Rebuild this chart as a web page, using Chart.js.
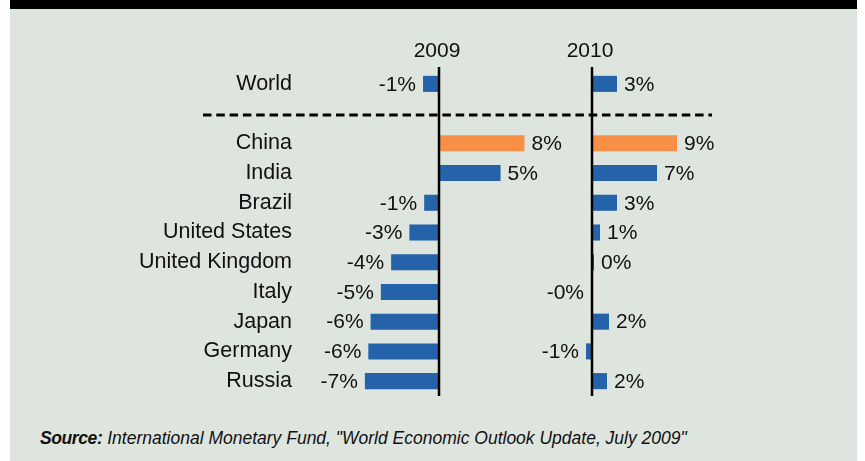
<!DOCTYPE html>
<html>
<head>
<meta charset="utf-8">
<script src="https://cdn.jsdelivr.net/npm/chart.js@4/dist/chart.umd.min.js"></script>
<style>
  html, body { margin: 0; padding: 0; background: #ffffff; }
  #panel { position: absolute; left: 10px; top: 0; width: 847px; height: 461px; background: #dee4de; }
  #topbar { position: absolute; left: 0; top: 0; width: 100%; height: 9px; background: #000000; }
  #chart { position: absolute; left: 0; top: 0; }
  #source {
    position: absolute; left: 40px; top: 430px; white-space: nowrap;
    font-family: "Liberation Sans", Arial, sans-serif; font-size: 17.5px; line-height: 1;
    font-style: italic; color: #111111;
  }
  #source b { font-weight: bold; letter-spacing: -0.4px; }
</style>
</head>
<body>
<div id="panel"><div id="topbar"></div></div>
<canvas id="chart" width="865" height="410"></canvas>
<div id="source"><b>Source:</b> International Monetary Fund, "World Economic Outlook Update, July 2009"</div>
<script>
// Real GDP growth (%), IMF projections
const categories = ['World', '', 'China', 'India', 'Brazil', 'United States', 'United Kingdom', 'Italy', 'Japan', 'Germany', 'Russia'];
const years = ['2009', '2010'];
const growth2009 = [-1.4, null, 7.5, 5.4, -1.3, -2.6, -4.2, -5.1, -6.0, -6.2, -6.5];
const growth2010 = [2.5, null, 8.5, 6.5, 2.5, 0.8, 0.2, -0.1, 1.7, -0.6, 1.5];

const BLUE = '#2462aa';
const ORANGE = '#f78f47';
const GREEN = '#1f6b2a';
const FONT = '"Liberation Sans", Arial, Helvetica, sans-serif';

function barColor(ctx) {
  const v = ctx.raw;
  if (categories[ctx.dataIndex] === 'China') return ORANGE;
  if (v !== null && Math.abs(v) < 0.5) return GREEN;
  return BLUE;
}

// Whole-percent label, rounding halves away from zero and keeping the sign of small negatives
function pctLabel(v) {
  const r = Math.sign(v) * Math.round(Math.abs(v));
  return (v < 0 && r === 0 ? '-0' : String(r)) + '%';
}

const yearPanels = {
  id: 'yearPanels',
  afterDatasetsDraw(chart) {
    const { ctx, chartArea, scales } = chart;
    ctx.save();

    // dashed rule through the empty row separating the world total from the countries
    const ySep = scales.y.getPixelForValue(1) + 1.5;
    ctx.strokeStyle = '#000000';
    ctx.lineWidth = 3;
    ctx.setLineDash([8.5, 4.8]);
    ctx.beginPath();
    ctx.moveTo(chartArea.left - 122, ySep);
    ctx.lineTo(chartArea.right + 20, ySep);
    ctx.stroke();
    ctx.setLineDash([]);

    chart.data.datasets.forEach((ds, di) => {
      const scale = scales[ds.xAxisID];
      const x0 = scale.getPixelForValue(0);

      // zero line of each year
      ctx.strokeStyle = '#000000';
      ctx.lineWidth = 2.5;
      ctx.beginPath();
      ctx.moveTo(x0, chartArea.top - 2);
      ctx.lineTo(x0, chartArea.bottom);
      ctx.stroke();

      // year heading
      ctx.fillStyle = '#111111';
      ctx.font = '21px ' + FONT;
      ctx.textAlign = 'center';
      ctx.textBaseline = 'alphabetic';
      ctx.fillText(ds.label, x0 - 2, chartArea.top - 12);

      // value labels at the bar ends
      const meta = chart.getDatasetMeta(di);
      meta.data.forEach((bar, i) => {
        const v = ds.data[i];
        if (v === null || v === undefined) return;
        ctx.textBaseline = 'middle';
        if (v < 0) {
          ctx.textAlign = 'right';
          ctx.fillText(pctLabel(v), bar.x - 7, bar.y + 1);
        } else {
          ctx.textAlign = 'left';
          ctx.fillText(pctLabel(v), bar.x + 7, bar.y + 1);
        }
      });
    });
    ctx.restore();
  }
};

new Chart(document.getElementById('chart'), {
  type: 'bar',
  data: {
    labels: categories,
    datasets: [
      { label: years[0], data: growth2009, xAxisID: 'x09', yAxisID: 'y', backgroundColor: barColor },
      { label: years[1], data: growth2010, xAxisID: 'x10', yAxisID: 'y', backgroundColor: barColor }
    ]
  },
  options: {
    indexAxis: 'y',
    responsive: false,
    animation: false,
    devicePixelRatio: 1,
    layout: { padding: { left: 0, right: 173, top: 69, bottom: 14 } },
    datasets: { bar: { grouped: false, categoryPercentage: 1, barPercentage: 0.54, borderWidth: 0 } },
    scales: {
      x09: {
        type: 'linear', axis: 'x', position: 'bottom', stack: 'years', stackWeight: 228,
        min: -10, max: 10, display: false
      },
      x10: {
        type: 'linear', axis: 'x', position: 'bottom', stack: 'years', stackWeight: 139,
        min: -3.9, max: 10, display: false
      },
      y: {
        type: 'category',
        afterFit(scale) {
          scale.width = 325;
          scale.paddingTop = 0;
          scale.paddingBottom = 0;
        },
        grid: { display: false, drawTicks: false },
        border: { display: false },
        ticks: { padding: 33, color: '#111111', font: { family: FONT, size: 21.5 }, autoSkip: false }
      }
    },
    plugins: {
      legend: { display: false },
      tooltip: { enabled: false }
    }
  },
  plugins: [yearPanels]
});
</script>
</body>
</html>
